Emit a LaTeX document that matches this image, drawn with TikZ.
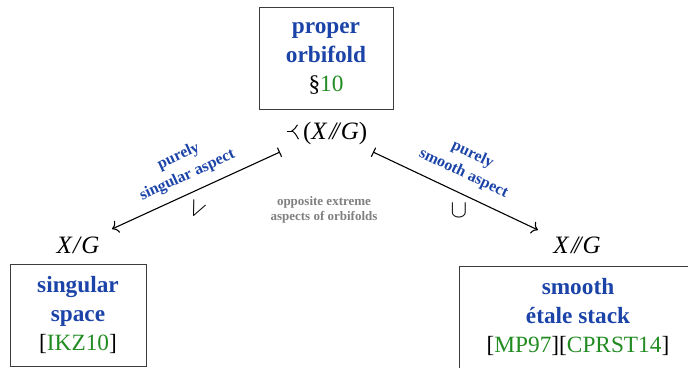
\documentclass[tikz,border=0pt]{standalone}
\usepackage{fontspec}
\setmainfont{Liberation Serif}
\usetikzlibrary{arrows.meta}

\definecolor{headblue}{RGB}{28,68,168}
\definecolor{refgreen}{RGB}{34,140,34}
\definecolor{notegrey}{RGB}{128,128,128}
\definecolor{framegrey}{RGB}{60,60,60}

% sideways fork glyph used in front of (X//G)
\newcommand{\forkglyph}{\tikz[baseline=0pt,line width=1pt,line cap=round]{
  \draw (0pt,8pt) -- (4.5pt,8pt);
  \draw (4.5pt,8pt) .. controls (6.5pt,9pt) and (8.5pt,11.5pt) .. (10pt,14pt);
  \draw (4.5pt,8pt) .. controls (7pt,7pt) and (9pt,4pt) .. (11pt,0pt);
}}
\newcommand{\dslash}{/\kern-0.14em/}

\begin{document}
\begin{tikzpicture}[x=1pt,y=-1pt,
  infobox/.style={draw=framegrey,line width=0.9pt,align=center,inner sep=0pt,
    font=\bfseries\fontsize{23.3}{29}\selectfont,text=headblue},
  mathlabel/.style={inner sep=0pt,font=\fontsize{25}{30}\selectfont\itshape},
  aspectnote/.style={align=center,inner sep=0pt,text=headblue,
    font=\bfseries\fontsize{16}{21}\selectfont},
  greynote/.style={align=center,inner sep=0pt,text=notegrey,
    font=\bfseries\fontsize{13}{15.5}\selectfont},
  mapsto/.style={line width=1.1pt,{Bar[width=10pt]}-{To[length=6pt,width=13pt]}},
  incl/.style={inner sep=0pt,font=\fontsize{25}{30}\selectfont}
]
\useasboundingbox (0,0) rectangle (688,367);

% boxes
\node[infobox,minimum width=134pt,minimum height=102pt] (orb) at (326,58)
  {proper\\orbifold\\\textcolor{black}{\normalfont\S}\textcolor{refgreen}{\normalfont 10}};
\node[infobox,minimum width=136pt,minimum height=102pt] (sing) at (78,315)
  {singular\\space\\\textcolor{black}{\normalfont[}\textcolor{refgreen}{\normalfont IKZ10}\textcolor{black}{\normalfont]}};
\node[infobox,minimum width=238pt,minimum height=102pt] (stack) at (578,317)
  {smooth\\\'etale stack\\\textcolor{black}{\normalfont[}\textcolor{refgreen}{\normalfont MP97}\textcolor{black}{\normalfont][}\textcolor{refgreen}{\normalfont CPRST14}\textcolor{black}{\normalfont]}};

% objects
\node[mathlabel] (top) at (327,133) {\forkglyph\,\upshape(\itshape X\kern0.1em\dslash\kern0.05em G\upshape)};
\node[mathlabel] (quot) at (78,245) {X\kern0.05em/\kern0.05em G};
\node[mathlabel] (stk) at (577,245) {X\kern0.1em\dslash\kern0.05em G};

% arrow ends
\coordinate (lt) at (280,152);
\coordinate (lh) at (112,229);
\coordinate (rt) at (373,152);
\coordinate (rh) at (538,230);

\draw[mapsto] (lt) -- (lh);
\draw[mapsto] (rt) -- (rh);

% labels on the arrows
\node[aspectnote,rotate=24.6] (lnote) at (183,166) {purely\\singular aspect};
\node[aspectnote,rotate=-25.3] (rnote) at (468,164) {purely\\smooth aspect};
\node[incl,rotate=-25] (vee) at (197,210) {$\vee$};
\node[incl] (cup) at (459,211) {$\cup$};

\node[greynote] (opp) at (324,210) {opposite extreme\\aspects of orbifolds};
\end{tikzpicture}
\end{document}
